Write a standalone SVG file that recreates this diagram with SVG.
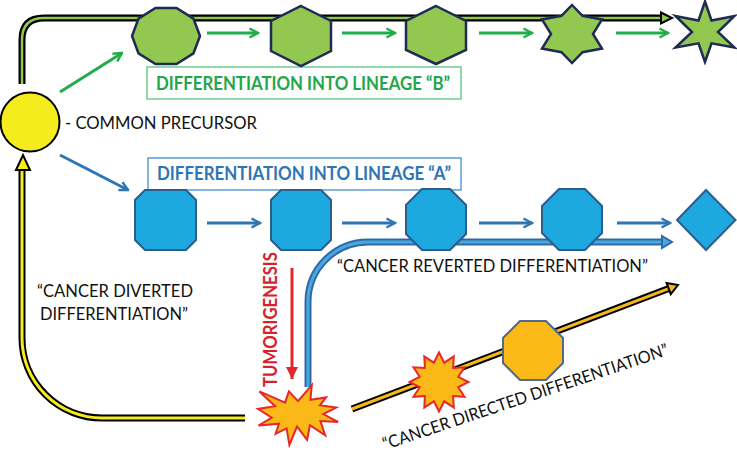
<svg xmlns="http://www.w3.org/2000/svg" width="737" height="454" viewBox="0 0 737 454">
<style>
.t{font-family:Lato,"Liberation Sans",sans-serif;font-size:17px;fill:#111}
.b{font-family:Lato,"Liberation Sans",sans-serif;font-size:18px;font-weight:bold}
.gn{fill:#92c84f;stroke:#1f2a55;stroke-width:2.5;stroke-linejoin:miter}
.bn{fill:#1ea8e0;stroke:#2d5d8c;stroke-width:2}
.gl{stroke:#1fae4b;stroke-width:3;fill:none}
.bl{stroke:#2e75b6;stroke-width:3;fill:none}
</style>
<defs>
<marker id="mg" viewBox="0 0 12 12" markerWidth="12" markerHeight="12" refX="10.5" refY="6" orient="auto" markerUnits="userSpaceOnUse">
<path d="M2,1.5 L10.5,6 L2,10.5" fill="none" stroke="#1fae4b" stroke-width="2.5"/>
</marker>
<marker id="mb" viewBox="0 0 12 12" markerWidth="12" markerHeight="12" refX="10.5" refY="6" orient="auto" markerUnits="userSpaceOnUse">
<path d="M2,1.5 L10.5,6 L2,10.5" fill="none" stroke="#2e75b6" stroke-width="2.5"/>
</marker>
<marker id="mr" viewBox="0 0 14 14" markerWidth="14" markerHeight="14" refX="12" refY="7" orient="auto" markerUnits="userSpaceOnUse">
<path d="M0,1 L12,7 L0,13 Z" fill="#e3262b"/>
</marker>
</defs>

<g id="connectors">
  <path d="M22,84 V40 Q22,18 44,18 H662" fill="none" stroke="#000" stroke-width="7"/>
  <path d="M22,84 V40 Q22,18 44,18 H662" fill="none" stroke="#92c84f" stroke-width="2.5"/>
  <polygon points="661,12.5 672,18 661,23.5" fill="#92c84f" stroke="#000" stroke-width="2"/>
  <path d="M245,418 H102 A80,80 0 0 1 22,338 V170" fill="none" stroke="#000" stroke-width="7"/>
  <path d="M245,418 H102 A80,80 0 0 1 22,338 V170" fill="none" stroke="#f5ec1e" stroke-width="3"/>
  <polygon points="16,170 23,155 30,170" fill="#f5ec1e" stroke="#000" stroke-width="2"/>
  <path d="M308,387 V302 A60,60 0 0 1 368,242 H662" fill="none" stroke="#2e6aa8" stroke-width="7"/>
  <path d="M308,387 V302 A60,60 0 0 1 368,242 H662" fill="none" stroke="#4aa8e0" stroke-width="3"/>
  <polygon points="662,236 672,242 662,248" fill="#4aa8e0" stroke="#2e6aa8" stroke-width="2"/>
  <line x1="352" y1="409" x2="668.7" y2="288.6" stroke="#000" stroke-width="7"/>
  <line x1="352" y1="409" x2="668.7" y2="288.6" stroke="#f5b91a" stroke-width="3"/>
  <polygon points="670.8,294.2 678,285 666.6,283" fill="#f5b91a" stroke="#000" stroke-width="2"/>
  <line class="gl" x1="60" y1="92" x2="122" y2="53" marker-end="url(#mg)"/>
  <line class="gl" x1="207" y1="33" x2="258" y2="33" marker-end="url(#mg)"/>
  <line class="gl" x1="342" y1="33" x2="395" y2="33" marker-end="url(#mg)"/>
  <line class="gl" x1="479" y1="33" x2="532" y2="33" marker-end="url(#mg)"/>
  <line class="gl" x1="616" y1="33" x2="668" y2="33" marker-end="url(#mg)"/>
  <line class="bl" x1="60" y1="155" x2="128" y2="190" marker-end="url(#mb)"/>
  <line class="bl" x1="207" y1="223" x2="260" y2="223" marker-end="url(#mb)"/>
  <line class="bl" x1="342" y1="223" x2="395" y2="223" marker-end="url(#mb)"/>
  <line class="bl" x1="479" y1="223" x2="532" y2="223" marker-end="url(#mb)"/>
  <line class="bl" x1="617" y1="223" x2="670" y2="223" marker-end="url(#mb)"/>
  <line x1="292" y1="268" x2="292" y2="379" stroke="#e3262b" stroke-width="3" marker-end="url(#mr)"/>
</g>

<g id="precursor">
  <circle cx="30" cy="122" r="29.5" fill="#f5ec1e" stroke="#000" stroke-width="2"/>
  <text class="t" x="65" y="129" textLength="192" lengthAdjust="spacingAndGlyphs">- COMMON PRECURSOR</text>
</g>

<g id="label-b">
  <rect x="147" y="67" width="314" height="32" fill="#fff" stroke="#6dcc8a" stroke-width="1.5"/>
  <text class="b" x="156" y="90" fill="#22a64a" textLength="294" lengthAdjust="spacingAndGlyphs">DIFFERENTIATION INTO LINEAGE “B”</text>
</g>
<g id="label-a">
  <rect x="148" y="158" width="313" height="32" fill="#fff" stroke="#5b9bd5" stroke-width="1.5"/>
  <text class="b" x="157" y="180" fill="#2e75b6" textLength="294" lengthAdjust="spacingAndGlyphs">DIFFERENTIATION INTO LINEAGE “A”</text>
</g>

<g id="b1"><polygon class="gn" points="200,36 193.5,53.3 176.5,64.1 155.5,64.1 138.5,53.3 132,36 138.5,18.7 155.5,7.9 176.5,7.9 193.5,18.7"/></g>
<g id="b2"><polygon class="gn" points="301,6 331,21 331,51 301,66 271,51 271,21"/></g>
<g id="b3"><polygon class="gn" points="436,6 466,21 466,50 436,64 406,50 406,21"/></g>
<g id="b4"><polygon class="gn" points="572,5 582.5,15.8 602,19.5 593,34 602,48.5 582.5,52.2 572,63 561.5,52.2 542,48.5 551,34 542,19.5 561.5,15.8"/></g>
<g id="b5"><polygon class="gn" points="705,1.5 711.5,20.5 734.5,16 718,32 734.5,47.5 711.5,43.3 705,62 698.5,43.3 675.5,47.5 692,32 675.5,16 698.5,20.5"/></g>

<g id="a1"><polygon class="bn" points="145,190 186,190 196,200 196,240 186,250 145,250 135,240 135,200"/></g>
<g id="a2"><polygon class="bn" points="281,190 321,190 331,200 331,240 321,250 281,250 271,240 271,200"/></g>
<g id="a3"><polygon class="bn" points="422,189 450,189 466,205 466,234 450,250 422,250 406,234 406,205"/></g>
<g id="a4"><polygon class="bn" points="559,189 585,189 602,206 602,233 585,250 559,250 542,233 542,206"/></g>
<g id="a5"><polygon class="bn" points="706,190 735.5,220 706,250 677,220"/></g>

<g id="tumor">
  <polygon points="298,401.1 311.8,385 310.4,399.8 326.1,397.4 319.9,405.3 336.1,407.6 323.2,414.1 338,421.9 320.4,421 325.2,435.3 309.9,425.2 307.1,439.8 297,426.5 289.4,445 286.6,428.4 275.6,433.9 279,423.7 258.5,425.5 271.8,417.7 258,408.9 275.1,406.2 259.4,391.4 285.1,402.6 288.9,391.4" fill="#fbb917" stroke="#e8262b" stroke-width="2"/>
</g>
<g id="tumor-directed">
  <polygon points="439,352.5 444.2,362.7 453.8,356.5 453.1,367.9 464.5,367.3 458.3,376.8 468.5,382 458.3,387.2 464.5,396.8 453.1,396.1 453.8,407.5 444.2,401.3 439,411.5 433.8,401.3 424.3,407.5 424.9,396.1 413.5,396.8 419.7,387.2 409.5,382 419.7,376.8 413.5,367.3 424.9,367.9 424.3,356.5 433.8,362.7" fill="#fbb917" stroke="#e8262b" stroke-width="2"/>
</g>
<g id="directed-oct">
  <polygon points="520,321 546,321 563,338 563,363 546,380 520,380 503,363 503,338" fill="#fbb917" stroke="#4f6a8c" stroke-width="2"/>
</g>

<g id="labels">
  <text class="b" transform="translate(277,387) rotate(-90)" fill="#d4232a" font-size="17" textLength="135" lengthAdjust="spacingAndGlyphs">TUMORIGENESIS</text>
  <text class="t" x="337" y="272" textLength="311" lengthAdjust="spacingAndGlyphs">“CANCER REVERTED DIFFERENTIATION”</text>
  <text class="t" x="37" y="297" textLength="156" lengthAdjust="spacingAndGlyphs">“CANCER DIVERTED</text>
  <text class="t" x="40" y="320" textLength="148" lengthAdjust="spacingAndGlyphs">DIFFERENTIATION”</text>
  <text class="t" transform="translate(385,450) rotate(-18.5)" textLength="300" lengthAdjust="spacingAndGlyphs">“CANCER DIRECTED DIFFERENTIATION”</text>
</g>
</svg>
